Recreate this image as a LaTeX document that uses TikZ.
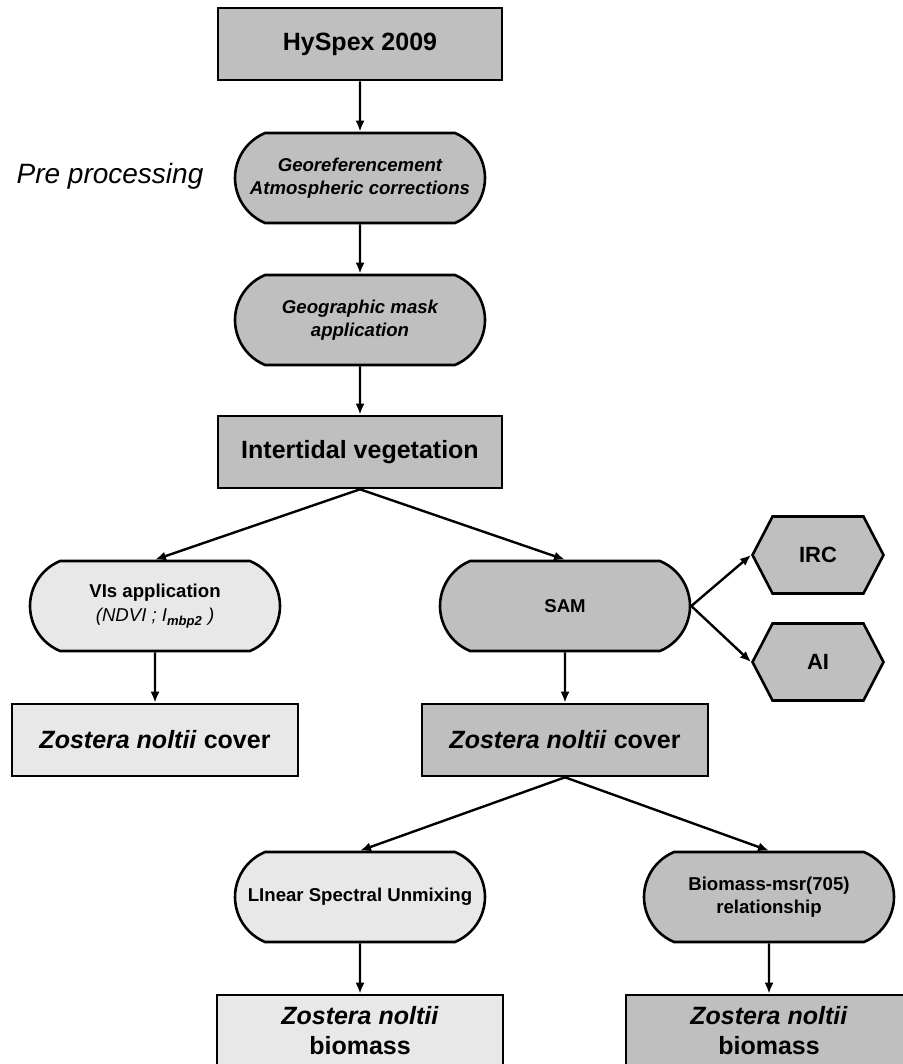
\documentclass[tikz,border=0pt]{standalone}
\usepackage{fontspec}
\setmainfont{Liberation Sans}
\usetikzlibrary{positioning,arrows.meta,shapes.misc,shapes.symbols}
\definecolor{darkfill}{gray}{0.75}
\definecolor{lightfill}{gray}{0.91}
\newcommand{\Zn}{\textit{Zostera noltii}}

\begin{document}
\begin{tikzpicture}[x=0.5pt,y=-0.5pt,
  databox/.style={draw,line width=1.3pt,fill=darkfill,minimum width=142pt,minimum height=36pt,inner sep=0pt,align=center,font=\fontsize{12.5}{15}\selectfont\bfseries},
  procbox/.style={draw,line width=1.3pt,fill=darkfill,rounded rectangle,rounded rectangle arc length=135,minimum width=125pt,minimum height=45pt,inner sep=0pt,align=center,font=\fontsize{9.3}{11.5}\selectfont\bfseries},
  indexbox/.style={draw,line width=1.3pt,fill=darkfill,signal,signal to=east and west,signal pointer angle=125,minimum width=65.5pt,minimum height=38.5pt,inner sep=0pt,font=\fontsize{11}{13}\selectfont\bfseries},
  flow/.style={-{Latex[length=5.5pt,width=4.5pt]},line width=1.2pt}]
  \useasboundingbox (0,0) rectangle (903,1064);
  \clip (0,0) rectangle (903,1064);
  % main trunk
  \node[databox] (hyspex) at (360,44) {HySpex 2009};
  \node[font=\fontsize{14}{17}\selectfont\itshape] (pre) at (110,176) {Pre processing};
  \node[procbox,font=\fontsize{9.3}{11.5}\selectfont\bfseries\itshape] (georef) at (360,178) {Georeferencement\\Atmospheric corrections};
  \node[procbox,font=\fontsize{9.3}{11.5}\selectfont\bfseries\itshape] (mask) at (360,320) {Geographic mask\\application};
  \node[databox] (veg) at (360,452) {Intertidal vegetation};
  % left branch
  \node[procbox,fill=lightfill,font=\fontsize{9.3}{12}\selectfont] (vis) at (155,606) {\textbf{VIs application}\\\textit{(NDVI ; I\textsubscript{\textbf{mbp2}} )}};
  \node[databox,fill=lightfill,minimum width=143pt] (coverL) at (155,740) {\Zn{} cover};
  % right branch
  \node[procbox] (sam) at (565,606) {SAM};
  \node[indexbox] (irc) at (818,555) {IRC};
  \node[indexbox] (ai) at (818,662) {AI};
  \node[databox,minimum width=143pt] (coverR) at (565,740) {\Zn{} cover};
  \node[procbox,fill=lightfill] (lsu) at (360,897) {LInear Spectral Unmixing};
  \node[procbox] (bmsr) at (769,897) {Biomass-msr(705)\\relationship};
  \node[databox,fill=lightfill,minimum width=143pt] (bioL) at (360,1031) {\Zn\\biomass};
  \node[databox,minimum width=143pt] (bioR) at (769,1031) {\Zn\\biomass};
  % connectors
  \draw[flow] (hyspex) -- (georef);
  \draw[flow] (georef) -- (mask);
  \draw[flow] (mask) -- (veg);
  \draw[flow] (veg.south) -- (vis.north);
  \draw[flow] (veg.south) -- (sam.north);
  \draw[flow] (sam.east) -- (irc.west);
  \draw[flow] (sam.east) -- (ai.west);
  \draw[flow] (vis) -- (coverL);
  \draw[flow] (sam) -- (coverR);
  \draw[flow] (coverR.south) -- (lsu.north);
  \draw[flow] (coverR.south) -- (bmsr.north);
  \draw[flow] (lsu) -- (bioL);
  \draw[flow] (bmsr) -- (bioR);
\end{tikzpicture}
\end{document}
